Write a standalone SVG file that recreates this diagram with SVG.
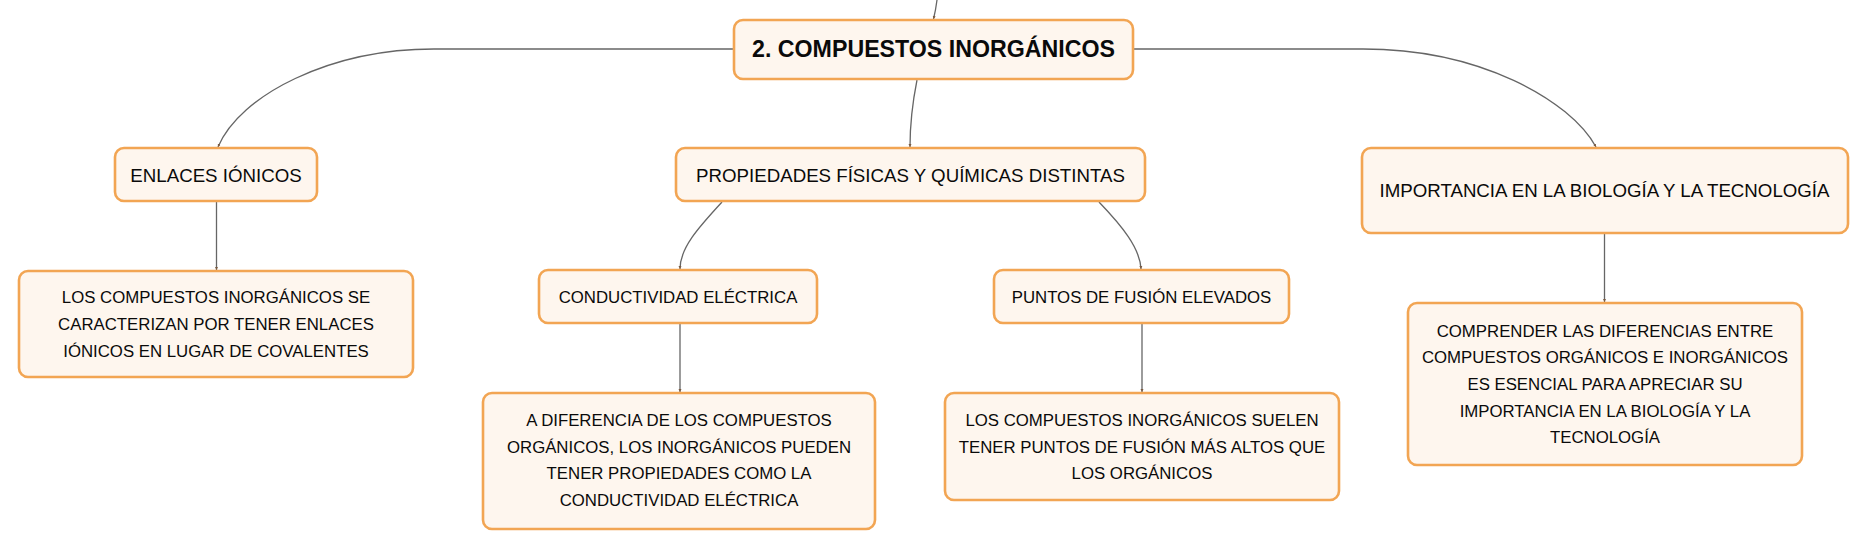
<svg xmlns="http://www.w3.org/2000/svg" width="1867" height="549" viewBox="0 0 1867 549">
<defs>
<marker id="arr" markerWidth="4" markerHeight="4" refX="3" refY="2" orient="auto" markerUnits="userSpaceOnUse">
<path d="M0,0.5 L3,2 L0,3.5 Z" fill="#7a5a40"/>
</marker>
<style>
.box{fill:#FEF6EE;stroke:#F2A553;stroke-width:2.6}
.t{font-family:"Liberation Sans",Arial,sans-serif;fill:#0a0a0a;text-anchor:middle}
.main{font-size:23.2px;font-weight:bold}
.l1{font-size:18.7px}
.l2{font-size:16.8px}
.c{fill:none;stroke:#666;stroke-width:1.3;marker-end:url(#arr)}
</style>
</defs>
<rect width="1867" height="549" fill="#fff"/>
<g id="connectors">
<path class="c" d="M937 0 C936 8 935 13 933.5 19"/>
<path class="c" d="M733 49 L434 49 C330 49 240 95 218 147"/>
<path class="c" d="M917 80 C913 100 910 120 910 147"/>
<path class="c" d="M1134 49 L1363 49 C1480 49 1570 100 1596 147"/>
<path class="c" d="M216.5 201 L216.5 270"/>
<path class="c" d="M722 202 C698 228 680 248 680 269"/>
<path class="c" d="M1099 202 C1122 226 1140 248 1141 269"/>
<path class="c" d="M680 323 L680 392"/>
<path class="c" d="M1142 323 L1142 392"/>
<path class="c" d="M1604.5 233 L1604.5 302"/>
</g>
<g id="n-main">
<rect class="box" x="734" y="20" width="399" height="59" rx="9"/>
<text class="t main" x="933.5" y="57">2. COMPUESTOS INORGÁNICOS</text>
</g>
<g id="n-enlaces">
<rect class="box" x="115" y="148" width="202" height="53" rx="9"/>
<text class="t l1" x="216" y="182">ENLACES IÓNICOS</text>
</g>
<g id="n-propiedades">
<rect class="box" x="676" y="148" width="469" height="53" rx="9"/>
<text class="t l1" x="910.5" y="182">PROPIEDADES FÍSICAS Y QUÍMICAS DISTINTAS</text>
</g>
<g id="n-importancia">
<rect class="box" x="1362" y="148" width="486" height="85" rx="9"/>
<text class="t l1" x="1604.5" y="197">IMPORTANCIA EN LA BIOLOGÍA Y LA TECNOLOGÍA</text>
</g>
<g id="n-conductividad">
<rect class="box" x="539" y="270" width="278" height="53" rx="9"/>
<text class="t l2" x="678" y="302.5">CONDUCTIVIDAD ELÉCTRICA</text>
</g>
<g id="n-puntos">
<rect class="box" x="994" y="270" width="295" height="53" rx="9"/>
<text class="t l2" x="1141.5" y="302.5">PUNTOS DE FUSIÓN ELEVADOS</text>
</g>
<g id="d-enlaces">
<rect class="box" x="19" y="271" width="394" height="106" rx="9"/>
<text class="t l2" x="216" y="303.3">LOS COMPUESTOS INORGÁNICOS SE</text>
<text class="t l2" x="216" y="330">CARACTERIZAN POR TENER ENLACES</text>
<text class="t l2" x="216" y="357.3">IÓNICOS EN LUGAR DE COVALENTES</text>
</g>
<g id="d-conductividad">
<rect class="box" x="483" y="393" width="392" height="136" rx="9"/>
<text class="t l2" x="679" y="426">A DIFERENCIA DE LOS COMPUESTOS</text>
<text class="t l2" x="679" y="452.7">ORGÁNICOS, LOS INORGÁNICOS PUEDEN</text>
<text class="t l2" x="679" y="479.3">TENER PROPIEDADES COMO LA</text>
<text class="t l2" x="679" y="506">CONDUCTIVIDAD ELÉCTRICA</text>
</g>
<g id="d-puntos">
<rect class="box" x="945" y="393" width="394" height="107" rx="9"/>
<text class="t l2" x="1142" y="426">LOS COMPUESTOS INORGÁNICOS SUELEN</text>
<text class="t l2" x="1142" y="452.7">TENER PUNTOS DE FUSIÓN MÁS ALTOS QUE</text>
<text class="t l2" x="1142" y="479.3">LOS ORGÁNICOS</text>
</g>
<g id="d-importancia">
<rect class="box" x="1408" y="303" width="394" height="162" rx="9"/>
<text class="t l2" x="1605" y="336.7">COMPRENDER LAS DIFERENCIAS ENTRE</text>
<text class="t l2" x="1605" y="363.3">COMPUESTOS ORGÁNICOS E INORGÁNICOS</text>
<text class="t l2" x="1605" y="390">ES ESENCIAL PARA APRECIAR SU</text>
<text class="t l2" x="1605" y="416.7">IMPORTANCIA EN LA BIOLOGÍA Y LA</text>
<text class="t l2" x="1605" y="443.3">TECNOLOGÍA</text>
</g>
</svg>
